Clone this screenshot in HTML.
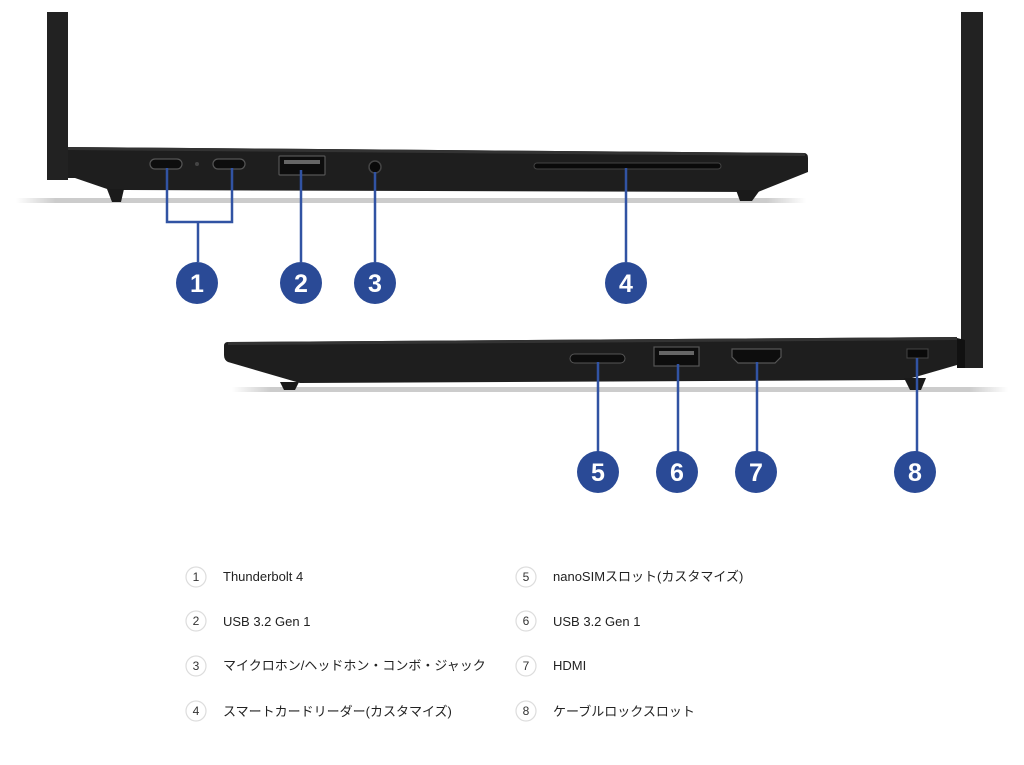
<!DOCTYPE html>
<html><head><meta charset="utf-8"><style>
html,body{margin:0;padding:0;background:#fff;}
svg{display:block}
.num{font-family:"Liberation Sans",sans-serif;font-weight:bold;font-size:25px;fill:#fff;text-anchor:middle}
.lt{font-family:"Liberation Sans","Noto Sans CJK JP",sans-serif;font-size:13px;fill:#222}
.ln{font-family:"Liberation Sans",sans-serif;font-size:12px;fill:#333;text-anchor:middle}
</style></head><body>
<svg width="1024" height="765" viewBox="0 0 1024 765" xmlns="http://www.w3.org/2000/svg">
<defs>
<linearGradient id="sh" x1="0" x2="1"><stop offset="0" stop-color="#fff"/><stop offset="0.05" stop-color="#ccc"/><stop offset="0.95" stop-color="#ccc"/><stop offset="1" stop-color="#fff"/></linearGradient>
</defs>
<!-- TOP LAPTOP -->
<rect x="16" y="198" width="790" height="5" fill="url(#sh)"/>
<rect x="47" y="12" width="21" height="168" fill="#222"/>
<path d="M68 147 L805 153 Q808 154 808 158 L808 172 L758 192 L110 190 L75 178 L68 178 Z" fill="#1e1e1e"/>
<path d="M68 147 L805 153 L805 156 L68 150Z" fill="#333"/>
<path d="M107 189 L124 189 L121 202 L112 202 Z" fill="#1a1a1a"/>
<path d="M736 190 L760 190 L752 201 L740 201 Z" fill="#1a1a1a"/>
<rect x="150" y="159" width="32" height="10" rx="5" fill="#0d0d0d" stroke="#555" stroke-width="1.2"/>
<rect x="213" y="159" width="32" height="10" rx="5" fill="#0d0d0d" stroke="#555" stroke-width="1.2"/>
<circle cx="197" cy="164" r="2" fill="#444"/>
<rect x="279" y="156" width="46" height="19" rx="1" fill="#0d0d0d" stroke="#555" stroke-width="1.2"/>
<rect x="284" y="160" width="36" height="4" fill="#666"/>
<circle cx="375" cy="167" r="6" fill="#0a0a0a" stroke="#444" stroke-width="1.5"/>
<rect x="534" y="163" width="187" height="6" rx="3" fill="#0a0a0a" stroke="#444"/>
<!-- top connectors -->
<g stroke="#3153a3" stroke-width="2.5" fill="none">
<path d="M167 168 V222 H232 V168"/>
<path d="M198 222 V262"/>
<path d="M301 170 V262"/>
<path d="M375 172 V262"/>
<path d="M626 168 V262"/>
</g>
<g fill="#2a4a96">
<circle cx="197" cy="283" r="21"/><circle cx="301" cy="283" r="21"/><circle cx="375" cy="283" r="21"/><circle cx="626" cy="283" r="21"/>
</g>
<text class="num" x="197" y="292">1</text><text class="num" x="301" y="292">2</text><text class="num" x="375" y="292">3</text><text class="num" x="626" y="292">4</text>

<!-- BOTTOM LAPTOP -->
<rect x="232" y="387" width="776" height="5" fill="url(#sh)"/>
<rect x="961" y="12" width="22" height="356" fill="#222"/>
<path d="M957 338 L965 340 L965 368 L957 368Z" fill="#111"/>
<path d="M228 342 L957 337 L957 365 L905 380 L300 383 L228 362 Q224 360 224 355 L224 346 Q224 342 228 342Z" fill="#1e1e1e"/>
<path d="M228 342 L957 337 L957 340 L228 345Z" fill="#333"/>
<path d="M280 382 L299 382 L295 390 L284 390Z" fill="#1a1a1a"/>
<path d="M904 378 L926 378 L921 390 L910 390Z" fill="#1a1a1a"/>
<rect x="570" y="354" width="55" height="9" rx="4.5" fill="#0d0d0d" stroke="#555"/>
<rect x="654" y="347" width="45" height="19" fill="#0d0d0d" stroke="#555" stroke-width="1.2"/>
<rect x="659" y="351" width="35" height="4" fill="#666"/>
<path d="M732 349 H781 V357 L775 363 H738 L732 357Z" fill="#0d0d0d" stroke="#555" stroke-width="1.2"/>
<rect x="907" y="349" width="21" height="9" fill="#0a0a0a" stroke="#444"/>
<g stroke="#3153a3" stroke-width="2.5" fill="none">
<path d="M598 362 V452"/><path d="M678 364 V452"/><path d="M757 362 V452"/><path d="M917 358 V452"/>
</g>
<g fill="#2a4a96">
<circle cx="598" cy="472" r="21"/><circle cx="677" cy="472" r="21"/><circle cx="756" cy="472" r="21"/><circle cx="915" cy="472" r="21"/>
</g>
<text class="num" x="598" y="481">5</text><text class="num" x="677" y="481">6</text><text class="num" x="756" y="481">7</text><text class="num" x="915" y="481">8</text>

<!-- LEGEND -->
<g fill="#fff" stroke="#ddd" stroke-width="1.2">
<circle cx="196" cy="577" r="10"/><circle cx="196" cy="621" r="10"/><circle cx="196" cy="666" r="10"/><circle cx="196" cy="711" r="10"/>
<circle cx="526" cy="577" r="10"/><circle cx="526" cy="621" r="10"/><circle cx="526" cy="666" r="10"/><circle cx="526" cy="711" r="10"/>
</g>
<text class="ln" x="196" y="581">1</text><text class="ln" x="196" y="625">2</text><text class="ln" x="196" y="670">3</text><text class="ln" x="196" y="715">4</text>
<text class="ln" x="526" y="581">5</text><text class="ln" x="526" y="625">6</text><text class="ln" x="526" y="670">7</text><text class="ln" x="526" y="715">8</text>
<text class="lt" x="223" y="581">Thunderbolt 4</text>
<text class="lt" x="223" y="626">USB 3.2 Gen 1</text>
<text class="lt" x="223" y="670">マイクロホン/ヘッドホン・コンボ・ジャック</text>
<text class="lt" x="223" y="716">スマートカードリーダー(カスタマイズ)</text>
<text class="lt" x="553" y="581">nanoSIMスロット(カスタマイズ)</text>
<text class="lt" x="553" y="626">USB 3.2 Gen 1</text>
<text class="lt" x="553" y="670">HDMI</text>
<text class="lt" x="553" y="716">ケーブルロックスロット</text>
</svg>
</body></html>
